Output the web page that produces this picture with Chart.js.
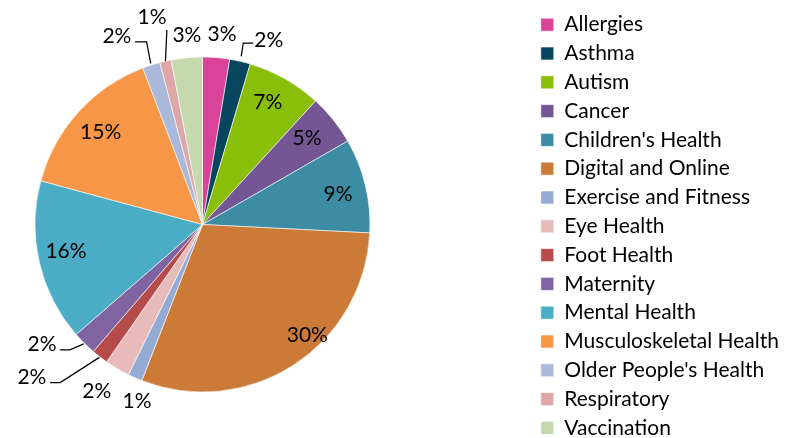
<!DOCTYPE html>
<html>
<head>
<meta charset="utf-8">
<script src="https://cdn.jsdelivr.net/npm/chart.js@4/dist/chart.umd.min.js"></script>
<style>
  html, body { margin: 0; padding: 0; background: #fff; overflow: hidden; }
  #wrap { position: relative; width: 787px; height: 438px; overflow: hidden; }
  #pieChart { position: absolute; top: 0; }
</style>
</head>
<body>
<div id="wrap"><canvas id="pieChart"></canvas></div>
<script>
    // topics and their share of the total (%)
    const topics = ['Allergies', 'Asthma', 'Autism', 'Cancer', "Children's Health", 'Digital and Online',
        'Exercise and Fitness', 'Eye Health', 'Foot Health', 'Maternity', 'Mental Health',
        'Musculoskeletal Health', "Older People's Health", 'Respiratory', 'Vaccination'];
    const shares = [2.6, 2.0, 7.2, 4.9, 9.1, 30.1, 1.4, 2.4, 1.6, 2.3, 15.6, 15.0, 1.7, 1.1, 3.0];
    const sliceColors = ['#D9439A', '#084660', '#89BF08', '#745694', '#3C8CA3', '#CB7A38',
        '#94ABD3', '#E8BBBB', '#B54C4B', '#8064A2', '#4BACC6', '#F79646', '#AAB9DA', '#DEA7A7', '#C6D8AD'];

    // where each % label sits: [radius factor, angle shift in degrees from slice middle]
    const labelSpots = [
        [1.14, 1.2], [1.17, 6.8], [0.83, -1.5], [0.81, -0.9], [0.83, 0.8], [0.91, -10.5],
        [1.124, -3.4], [1.177, 1.8], [1.366, 10.4], [1.195, 8.5], [0.83, 2], [0.82, 0],
        [1.236, -6.6], [1.275, -0.9], [1.135, 0.7]
    ];
    // leader lines: [start radius factor, elbow angle shift, elbow radius factor, horizontal tail]
    const leaders = [
        null, [1.03, -0.3, 1.11, 10], null, null, null, null,
        null, null, [1.004, 4.2, 1.27, -10], [1.005, 1.8, 1.09, -10], null, null,
        [1.01, 0.8, 1.14, -11.7], [1.0, 2.4, 1.18, 0], null
    ];

    const fontFamily = 'Lato';
    const fontSize = 21;

    const pieLabels = {
        id: 'pieLabels',
        afterDatasetsDraw(chart) {
            const ctx = chart.ctx;
            const meta = chart.getDatasetMeta(0);
            const total = shares.reduce((a, b) => a + b, 0);
            ctx.save();
            ctx.font = fontSize + 'px ' + fontFamily;
            ctx.fillStyle = '#000';
            ctx.strokeStyle = '#000';
            ctx.lineWidth = 1.25;
            ctx.textAlign = 'center';
            ctx.textBaseline = 'middle';
            meta.data.forEach((arc, i) => {
                const p = arc.getProps(['x', 'y', 'startAngle', 'endAngle', 'outerRadius'], true);
                const mid = (p.startAngle + p.endAngle) / 2;
                const spot = labelSpots[i];
                const a = mid + spot[1] * Math.PI / 180;
                const tx = p.x + Math.cos(a) * p.outerRadius * spot[0];
                const ty = p.y + Math.sin(a) * p.outerRadius * spot[0];
                ctx.fillText(Math.round(shares[i] / total * 100) + '%', tx, ty);

                const lead = leaders[i];
                if (lead) {
                    const ea = mid + lead[1] * Math.PI / 180;
                    const ex = p.x + Math.cos(ea) * p.outerRadius * lead[2];
                    const ey = p.y + Math.sin(ea) * p.outerRadius * lead[2];
                    ctx.beginPath();
                    ctx.moveTo(p.x + Math.cos(mid) * p.outerRadius * lead[0], p.y + Math.sin(mid) * p.outerRadius * lead[0]);
                    ctx.lineTo(ex, ey);
                    if (lead[3]) ctx.lineTo(ex + lead[3], ey);
                    ctx.stroke();
                }
            });
            ctx.restore();
        }
    };

    // the canvas is wider than the window and shifted left, so the pie sits left of centre
    // while the legend keeps its place on the right
    const measure = document.createElement('canvas').getContext('2d');
    measure.font = fontSize + 'px ' + fontFamily;
    const longest = Math.max(...topics.map(t => measure.measureText(t).width));
    const legendPad = 7.8;
    const legendWidth = legendPad + 13 + fontSize / 2 + longest + 10;
    const centerX = 202.5;
    const shiftLeft = 128;
    const areaWidth = 2 * (centerX + shiftLeft);
    const canvasWidth = Math.ceil(areaWidth + legendWidth) + 1;
    const padRight = canvasWidth - legendWidth - areaWidth;

    const pieCanvas = document.getElementById('pieChart');
    pieCanvas.width = canvasWidth;
    pieCanvas.height = 449;
    pieCanvas.style.left = (-shiftLeft) + 'px';

    let pieChart = new Chart(pieCanvas, {
        type: 'pie',
        data: {
            labels: topics,
            datasets: [{
                data: shares,
                backgroundColor: sliceColors,
                borderColor: '#ffffff',
                borderWidth: 0.6,
                radius: 167.5
            }]
        },
        options: {
            responsive: false,
            animation: false,
            devicePixelRatio: 1,
            layout: {
                padding: { left: 0, right: padRight, top: 0, bottom: 0 }
            },
            plugins: {
                tooltip: { enabled: false },
                legend: {
                    position: 'right',
                    title: { display: true, text: '', font: { size: 2, lineHeight: 1 }, padding: 0.8 },
                    labels: {
                        boxWidth: 13,
                        boxHeight: 13,
                        padding: legendPad,
                        color: '#000',
                        font: { family: fontFamily, size: fontSize, lineHeight: 1 }
                    }
                }
            }
        },
        plugins: [pieLabels]
    });
</script>
</body>
</html>
